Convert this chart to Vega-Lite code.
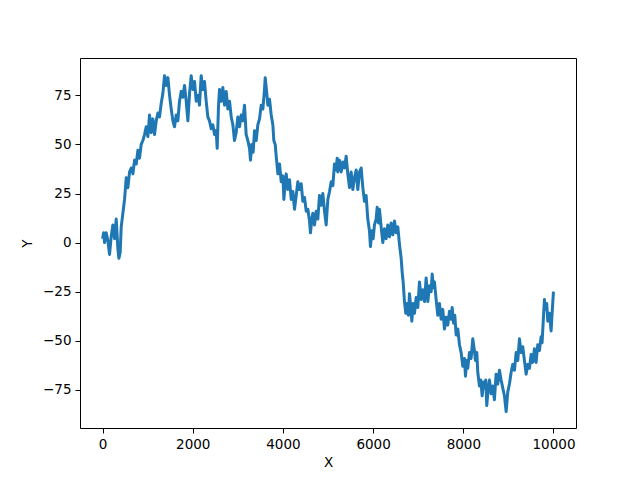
{
  "$schema": "https://vega.github.io/schema/vega-lite/v6.json",
  "width": 496,
  "height": 370,
  "autosize": {"type": "none"},
  "padding": {"left": 80, "top": 58, "right": 64, "bottom": 52},
  "background": "white",
  "config": {
    "view": {"stroke": "black", "strokeWidth": 1},
    "font": "DejaVu Sans",
    "axis": {
      "grid": false,
      "domain": false,
      "tickColor": "black",
      "tickSize": 5,
      "tickWidth": 1,
      "labelColor": "black",
      "labelFont": "DejaVu Sans",
      "labelFontSize": 13.5,
      "labelPadding": 4,
      "titleFont": "DejaVu Sans",
      "titleFontSize": 13.5,
      "titleFontWeight": "normal",
      "titleColor": "black"
    }
  },
  "data": {"values": [
{"x":0,"y":2},{"x":25,"y":5},{"x":44,"y":0},{"x":81,"y":5},{"x":118,"y":1},{"x":155,"y":-6},{"x":192,"y":3},{"x":229,"y":9},{"x":266,"y":2},{"x":303,"y":12},{"x":340,"y":-3},{"x":362,"y":-8},{"x":391,"y":-5},{"x":414,"y":8},{"x":451,"y":15},{"x":488,"y":22},{"x":525,"y":33},{"x":562,"y":28},{"x":599,"y":36},{"x":636,"y":38},{"x":673,"y":35},{"x":710,"y":42},{"x":747,"y":40},{"x":784,"y":47},{"x":820,"y":43},{"x":857,"y":50},{"x":894,"y":52},{"x":931,"y":55},{"x":968,"y":59},{"x":1005,"y":54},{"x":1042,"y":65},{"x":1079,"y":56},{"x":1116,"y":63},{"x":1153,"y":55},{"x":1190,"y":62},{"x":1227,"y":66},{"x":1264,"y":64},{"x":1301,"y":71},{"x":1338,"y":76},{"x":1375,"y":85},{"x":1412,"y":80},{"x":1449,"y":84},{"x":1486,"y":75},{"x":1523,"y":68},{"x":1560,"y":62},{"x":1596,"y":59},{"x":1633,"y":65},{"x":1670,"y":62},{"x":1707,"y":72},{"x":1744,"y":77},{"x":1781,"y":74},{"x":1818,"y":80},{"x":1855,"y":72},{"x":1892,"y":62},{"x":1929,"y":76},{"x":1966,"y":85},{"x":2003,"y":78},{"x":2040,"y":82},{"x":2077,"y":72},{"x":2114,"y":75},{"x":2150,"y":70},{"x":2187,"y":85},{"x":2224,"y":78},{"x":2261,"y":82},{"x":2298,"y":72},{"x":2335,"y":64},{"x":2372,"y":62},{"x":2409,"y":58},{"x":2446,"y":60},{"x":2483,"y":55},{"x":2520,"y":57},{"x":2542,"y":48},{"x":2572,"y":70},{"x":2594,"y":78},{"x":2631,"y":72},{"x":2668,"y":79},{"x":2705,"y":70},{"x":2742,"y":77},{"x":2779,"y":68},{"x":2816,"y":72},{"x":2853,"y":64},{"x":2890,"y":60},{"x":2926,"y":52},{"x":2963,"y":56},{"x":3000,"y":64},{"x":3037,"y":59},{"x":3074,"y":65},{"x":3111,"y":62},{"x":3148,"y":70},{"x":3185,"y":55},{"x":3222,"y":52},{"x":3259,"y":48},{"x":3281,"y":42},{"x":3310,"y":50},{"x":3340,"y":46},{"x":3370,"y":57},{"x":3407,"y":52},{"x":3444,"y":60},{"x":3481,"y":63},{"x":3518,"y":70},{"x":3555,"y":68},{"x":3592,"y":78},{"x":3607,"y":84},{"x":3629,"y":79},{"x":3666,"y":70},{"x":3703,"y":73},{"x":3740,"y":65},{"x":3777,"y":60},{"x":3798,"y":52},{"x":3829,"y":50},{"x":3851,"y":44},{"x":3888,"y":35},{"x":3925,"y":40},{"x":3962,"y":31},{"x":3999,"y":34},{"x":4021,"y":22},{"x":4050,"y":30},{"x":4073,"y":35},{"x":4110,"y":27},{"x":4147,"y":32},{"x":4184,"y":22},{"x":4220,"y":26},{"x":4257,"y":17},{"x":4294,"y":24},{"x":4331,"y":31},{"x":4368,"y":27},{"x":4405,"y":30},{"x":4442,"y":21},{"x":4479,"y":23},{"x":4516,"y":16},{"x":4553,"y":17},{"x":4590,"y":11},{"x":4611,"y":5},{"x":4641,"y":12},{"x":4663,"y":15},{"x":4700,"y":9},{"x":4737,"y":16},{"x":4774,"y":12},{"x":4811,"y":24},{"x":4848,"y":19},{"x":4885,"y":25},{"x":4922,"y":16},{"x":4959,"y":9},{"x":4996,"y":22},{"x":5033,"y":26},{"x":5070,"y":31},{"x":5107,"y":29},{"x":5143,"y":40},{"x":5180,"y":37},{"x":5203,"y":43},{"x":5217,"y":36},{"x":5254,"y":42},{"x":5291,"y":36},{"x":5328,"y":41},{"x":5365,"y":38},{"x":5402,"y":44},{"x":5439,"y":35},{"x":5476,"y":28},{"x":5513,"y":36},{"x":5550,"y":27},{"x":5587,"y":33},{"x":5624,"y":37},{"x":5661,"y":27},{"x":5698,"y":36},{"x":5735,"y":38},{"x":5772,"y":28},{"x":5808,"y":21},{"x":5845,"y":24},{"x":5882,"y":12},{"x":5919,"y":6},{"x":5941,"y":-2},{"x":5971,"y":6},{"x":6001,"y":2},{"x":6030,"y":9},{"x":6067,"y":12},{"x":6090,"y":18},{"x":6119,"y":10},{"x":6141,"y":17},{"x":6178,"y":8},{"x":6215,"y":0},{"x":6252,"y":7},{"x":6289,"y":2},{"x":6326,"y":9},{"x":6363,"y":3},{"x":6400,"y":10},{"x":6437,"y":4},{"x":6474,"y":11},{"x":6511,"y":5},{"x":6548,"y":8},{"x":6585,"y":-1},{"x":6622,"y":-8},{"x":6644,"y":-15},{"x":6666,"y":-20},{"x":6695,"y":-30},{"x":6725,"y":-36},{"x":6755,"y":-31},{"x":6784,"y":-37},{"x":6806,"y":-26},{"x":6836,"y":-33},{"x":6858,"y":-40},{"x":6888,"y":-31},{"x":6917,"y":-36},{"x":6954,"y":-28},{"x":6991,"y":-33},{"x":7028,"y":-20},{"x":7065,"y":-29},{"x":7102,"y":-24},{"x":7139,"y":-30},{"x":7176,"y":-18},{"x":7213,"y":-30},{"x":7250,"y":-22},{"x":7287,"y":-25},{"x":7310,"y":-16},{"x":7338,"y":-23},{"x":7360,"y":-20},{"x":7398,"y":-29},{"x":7434,"y":-37},{"x":7471,"y":-31},{"x":7508,"y":-39},{"x":7545,"y":-34},{"x":7582,"y":-44},{"x":7620,"y":-38},{"x":7656,"y":-42},{"x":7693,"y":-35},{"x":7730,"y":-39},{"x":7753,"y":-33},{"x":7782,"y":-41},{"x":7811,"y":-37},{"x":7841,"y":-47},{"x":7878,"y":-44},{"x":7915,"y":-52},{"x":7952,"y":-56},{"x":7989,"y":-63},{"x":8026,"y":-59},{"x":8048,"y":-68},{"x":8076,"y":-60},{"x":8099,"y":-64},{"x":8136,"y":-56},{"x":8173,"y":-59},{"x":8210,"y":-49},{"x":8247,"y":-55},{"x":8269,"y":-60},{"x":8299,"y":-56},{"x":8321,"y":-66},{"x":8358,"y":-73},{"x":8387,"y":-70},{"x":8418,"y":-78},{"x":8447,"y":-71},{"x":8469,"y":-74},{"x":8498,"y":-70},{"x":8520,"y":-83},{"x":8550,"y":-75},{"x":8580,"y":-70},{"x":8617,"y":-77},{"x":8653,"y":-73},{"x":8690,"y":-80},{"x":8727,"y":-67},{"x":8764,"y":-72},{"x":8801,"y":-65},{"x":8839,"y":-70},{"x":8875,"y":-74},{"x":8912,"y":-78},{"x":8950,"y":-86},{"x":8986,"y":-76},{"x":9023,"y":-72},{"x":9061,"y":-66},{"x":9097,"y":-62},{"x":9134,"y":-65},{"x":9172,"y":-56},{"x":9208,"y":-60},{"x":9245,"y":-49},{"x":9283,"y":-56},{"x":9318,"y":-53},{"x":9355,"y":-60},{"x":9393,"y":-67},{"x":9430,"y":-62},{"x":9467,"y":-64},{"x":9504,"y":-57},{"x":9540,"y":-61},{"x":9577,"y":-54},{"x":9614,"y":-61},{"x":9651,"y":-52},{"x":9688,"y":-55},{"x":9725,"y":-48},{"x":9747,"y":-51},{"x":9777,"y":-38},{"x":9799,"y":-29},{"x":9821,"y":-34},{"x":9850,"y":-31},{"x":9873,"y":-40},{"x":9910,"y":-36},{"x":9947,"y":-45},{"x":9969,"y":-36},{"x":9999,"y":-25}
  ]},
  "mark": {"type": "line", "color": "#1f77b4", "strokeWidth": 3, "strokeJoin": "round", "clip": true},
  "encoding": {
    "x": {
      "field": "x", "type": "quantitative", "title": "X",
      "scale": {"domain": [-500, 10499], "nice": false, "zero": false},
      "axis": {"values": [0, 2000, 4000, 6000, 8000, 10000], "format": "d", "titlePadding": 5}
    },
    "y": {
      "field": "y", "type": "quantitative", "title": "Y",
      "scale": {"domain": [-94.4, 94], "nice": false, "zero": false},
      "axis": {"values": [-75, -50, -25, 0, 25, 50, 75], "format": "d", "titlePadding": 8}
    }
  }
}
